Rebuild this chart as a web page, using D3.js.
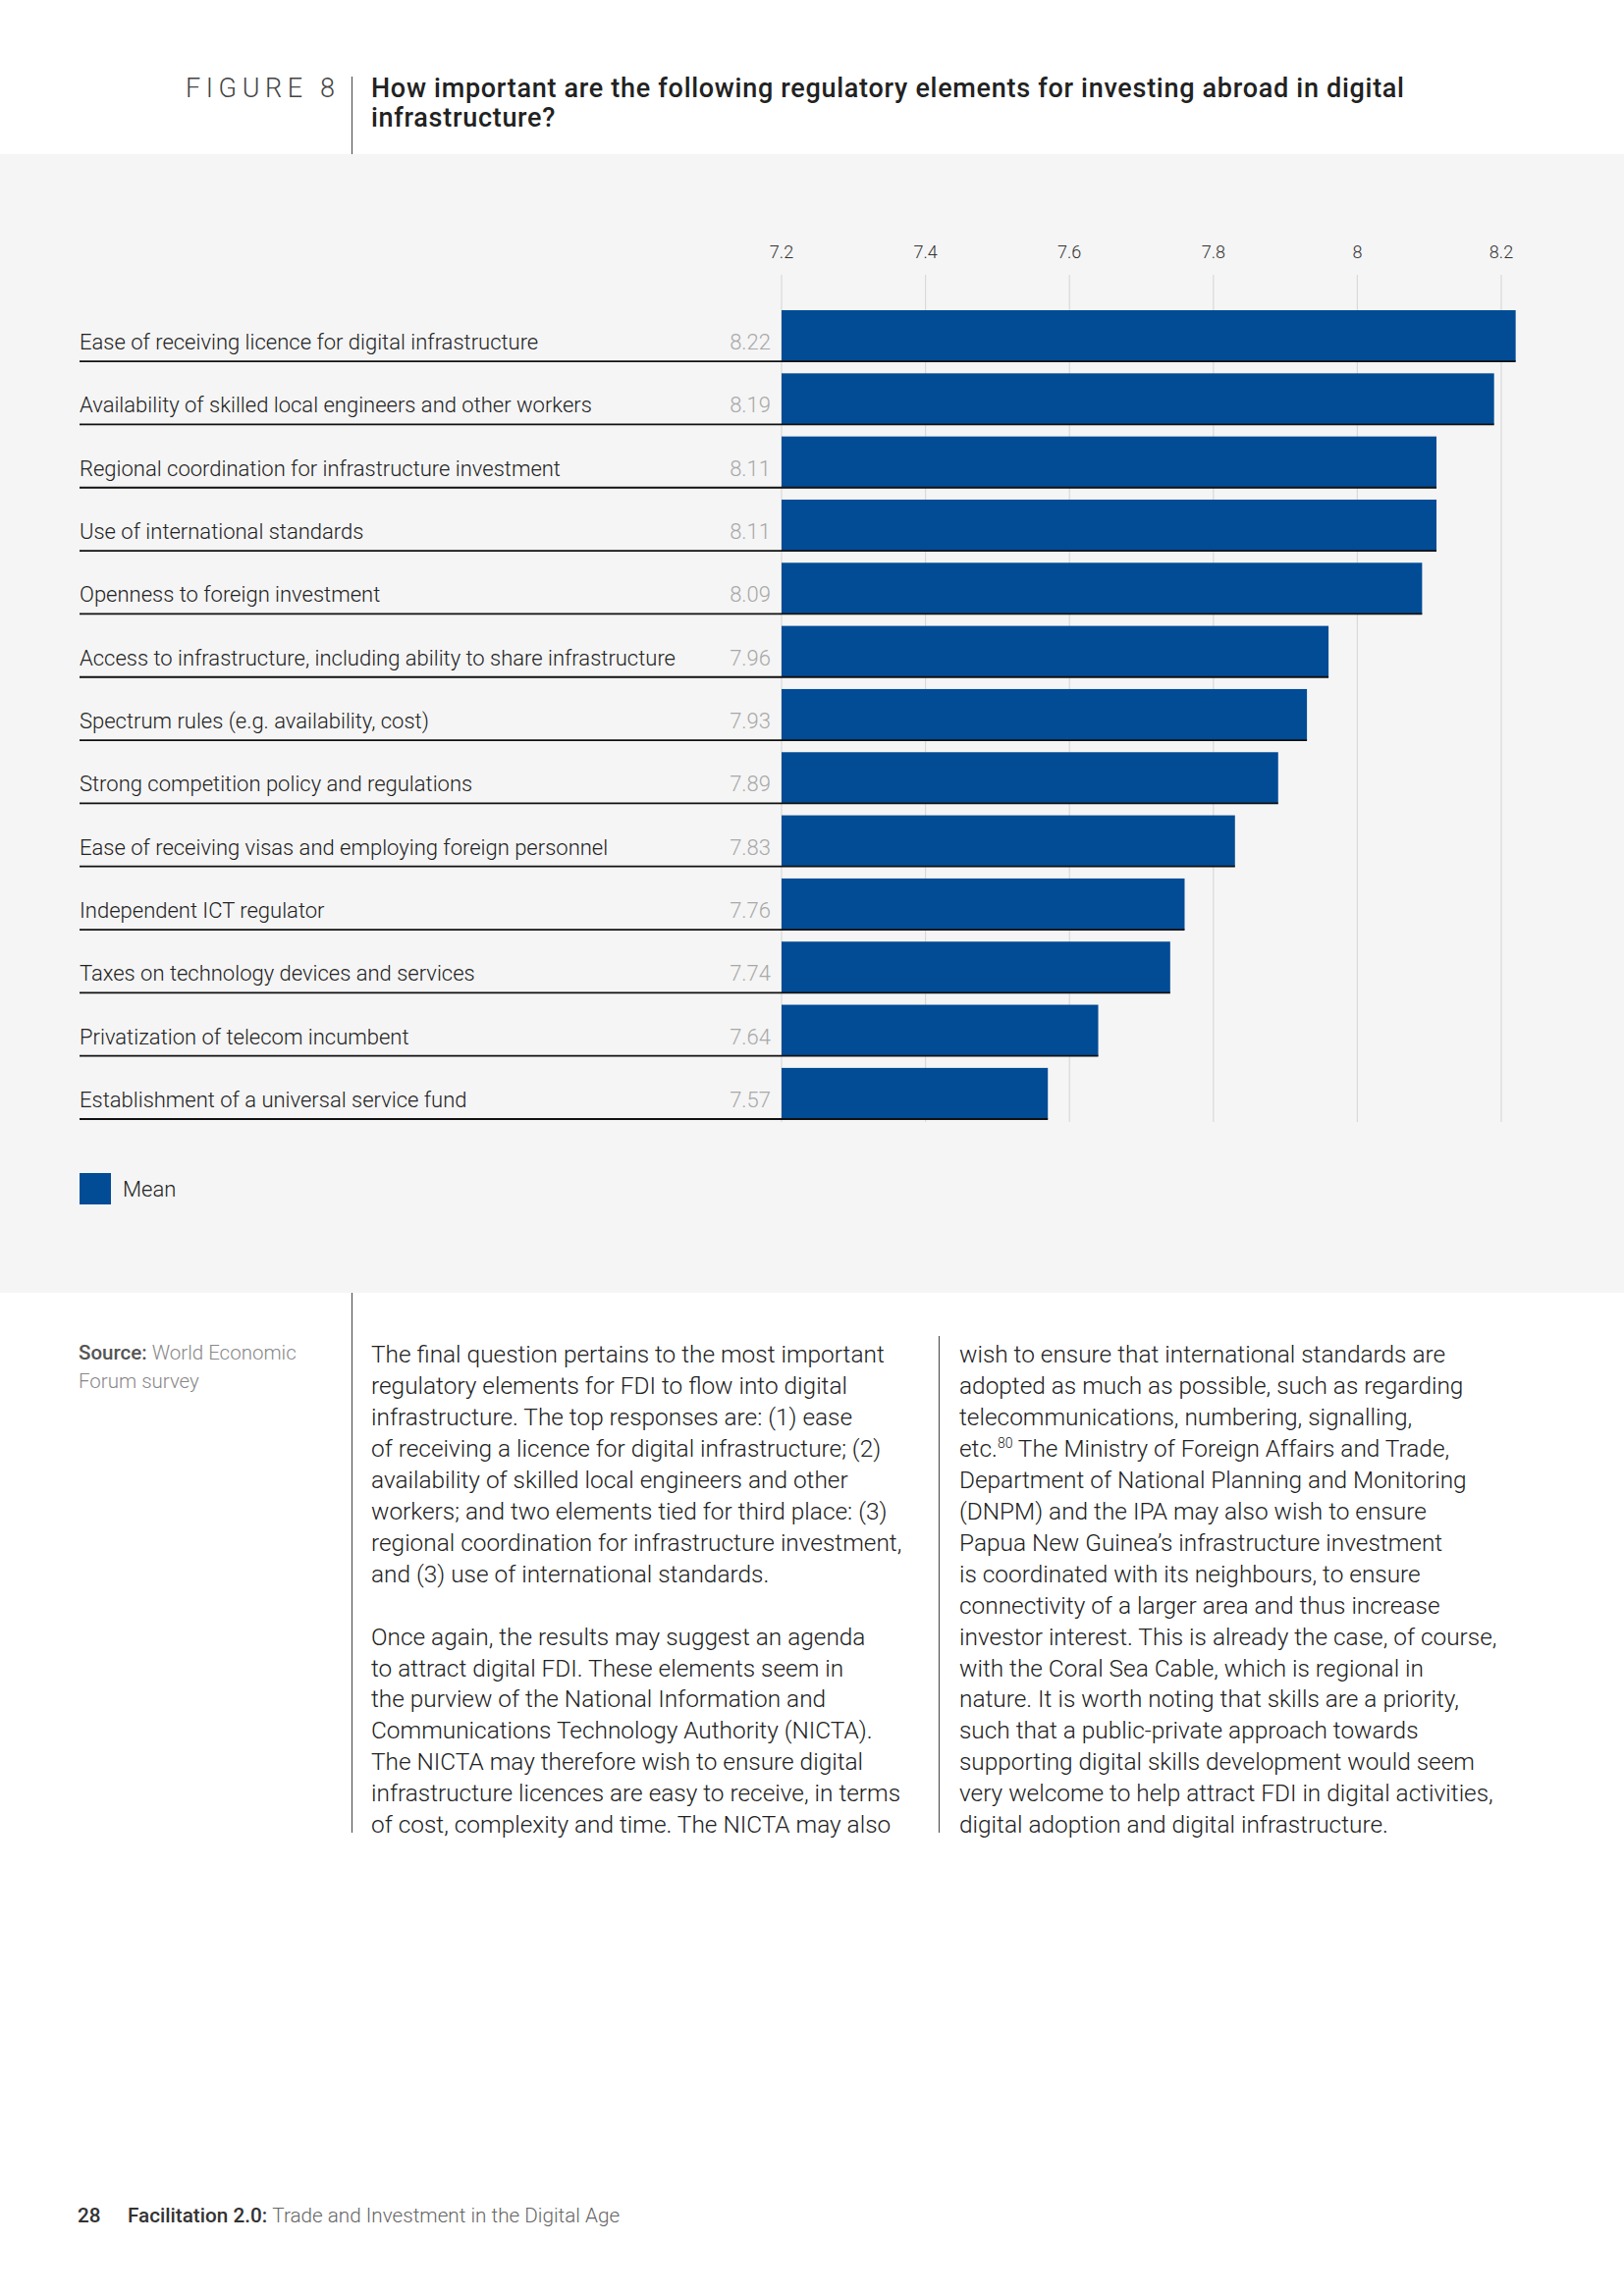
<!DOCTYPE html>
<html><head><meta charset="utf-8">
<script src="https://cdn.jsdelivr.net/npm/d3@7/dist/d3.min.js"></script>
<style>
html,body{margin:0;padding:0;background:#fff;}
svg{display:block;}
text{font-family:Roboto,"Liberation Sans",sans-serif;}
</style></head>
<body>
<svg id="chart" width="1654" height="2339"></svg>
<script>
const categories = [
  "Ease of receiving licence for digital infrastructure",
  "Availability of skilled local engineers and other workers",
  "Regional coordination for infrastructure investment",
  "Use of international standards",
  "Openness to foreign investment",
  "Access to infrastructure, including ability to share infrastructure",
  "Spectrum rules (e.g. availability, cost)",
  "Strong competition policy and regulations",
  "Ease of receiving visas and employing foreign personnel",
  "Independent ICT regulator",
  "Taxes on technology devices and services",
  "Privatization of telecom incumbent",
  "Establishment of a universal service fund"
];
const meanValues = [8.22, 8.19, 8.11, 8.11, 8.09, 7.96, 7.93, 7.89, 7.83, 7.76, 7.74, 7.64, 7.57];
const tickValues = [7.2, 7.4, 7.6, 7.8, 8.0, 8.2];
const tickLabels = ["7.2", "7.4", "7.6", "7.8", "8", "8.2"];
const seriesName = "Mean";

const titleLines = ["How important are the following regulatory elements for investing abroad in digital", "infrastructure?"];
const col1Lines = [
  "The final question pertains to the most important",
  "regulatory elements for FDI to flow into digital",
  "infrastructure. The top responses are: (1) ease",
  "of receiving a licence for digital infrastructure; (2)",
  "availability of skilled local engineers and other",
  "workers; and two elements tied for third place: (3)",
  "regional coordination for infrastructure investment,",
  "and (3) use of international standards.",
  "",
  "Once again, the results may suggest an agenda",
  "to attract digital FDI. These elements seem in",
  "the purview of the National Information and",
  "Communications Technology Authority (NICTA).",
  "The NICTA may therefore wish to ensure digital",
  "infrastructure licences are easy to receive, in terms",
  "of cost, complexity and time. The NICTA may also"
];
const col2Lines = [
  "wish to ensure that international standards are",
  "adopted as much as possible, such as regarding",
  "telecommunications, numbering, signalling,",
  "etc.|80| The Ministry of Foreign Affairs and Trade,",
  "Department of National Planning and Monitoring",
  "(DNPM) and the IPA may also wish to ensure",
  "Papua New Guinea’s infrastructure investment",
  "is coordinated with its neighbours, to ensure",
  "connectivity of a larger area and thus increase",
  "investor interest. This is already the case, of course,",
  "with the Coral Sea Cable, which is regional in",
  "nature. It is worth noting that skills are a priority,",
  "such that a public-private approach towards",
  "supporting digital skills development would seem",
  "very welcome to help attract FDI in digital activities,",
  "digital adoption and digital infrastructure."
];

const svg = d3.select("#chart");
const barColor = "#024c96";

// grey band
svg.append("rect").attr("x",0).attr("y",157).attr("width",1654).attr("height",1160).attr("fill","#f5f5f5");

// header
svg.append("text").attr("x",189).attr("y",99).attr("font-size",27).attr("font-weight",300)
  .attr("letter-spacing",5.6).attr("fill","#444").text("FIGURE 8");
svg.append("line").attr("x1",358.5).attr("x2",358.5).attr("y1",78).attr("y2",157).attr("stroke","#555").attr("stroke-width",1.2);
titleLines.forEach((t,i)=>{
  const tt = svg.append("text").attr("x",378).attr("y",99+i*30).attr("font-size",27).attr("font-weight",500)
    .attr("fill","#222").text(t);
  if(i===0){
    const len = tt.node().getComputedTextLength();
    const ls = (1052 - len)/(t.length-1);
    tt.attr("letter-spacing", ls);
    svg.property("__ls", ls);
  } else {
    tt.attr("letter-spacing", svg.property("__ls"));
  }
});

// scales
const x = d3.scaleLinear().domain([7.2, 8.2]).range([796, 1529]);
const y = d3.scaleBand().domain(categories).range([316, 1140]).paddingInner(0.19).paddingOuter(0);

// gridlines + tick labels
const g = svg.append("g");
g.selectAll("line.grid").data(tickValues).join("line").attr("class","grid")
  .attr("x1",d=>x(d)).attr("x2",d=>x(d)).attr("y1",280).attr("y2",1143)
  .attr("stroke","#d9d9d9").attr("stroke-width",1.2);
g.selectAll("text.tick").data(tickValues).join("text").attr("class","tick")
  .attr("x",d=>x(d)).attr("y",263).attr("text-anchor","middle").attr("font-size",18).attr("font-weight",300)
  .attr("fill","#333").text((d,i)=>tickLabels[i]);

// bars
g.selectAll("rect.bar").data(meanValues).join("rect").attr("class","bar")
  .attr("x",x(7.2)).attr("y",(d,i)=>y(categories[i]))
  .attr("width",d=>x(d)-x(7.2)).attr("height",y.bandwidth()).attr("fill",barColor);

// underlines
g.selectAll("line.under").data(meanValues).join("line").attr("class","under")
  .attr("x1",81).attr("x2",d=>x(d))
  .attr("y1",(d,i)=>y(categories[i])+y.bandwidth()).attr("y2",(d,i)=>y(categories[i])+y.bandwidth())
  .attr("stroke","#111").attr("stroke-width",1.8);

// labels
g.selectAll("text.cat").data(categories).join("text").attr("class","cat")
  .attr("x",81).attr("y",d=>y(d)+y.bandwidth()-12).attr("font-size",22).attr("font-weight",300)
  .attr("fill","#222").text(d=>d);
g.selectAll("text.val").data(meanValues).join("text").attr("class","val")
  .attr("x",785).attr("y",(d,i)=>y(categories[i])+y.bandwidth()-12).attr("text-anchor","end")
  .attr("font-size",22).attr("font-weight",300).attr("fill","#a8a8a8").text(d=>d.toFixed(2));

// legend
svg.append("rect").attr("x",81).attr("y",1195).attr("width",32).attr("height",32).attr("fill",barColor);
svg.append("text").attr("x",125).attr("y",1219).attr("font-size",22).attr("font-weight",300).attr("fill","#222").text(seriesName);

// lower section
svg.append("line").attr("x1",358.5).attr("x2",358.5).attr("y1",1317).attr("y2",1867).attr("stroke","#555").attr("stroke-width",1.2);
svg.append("line").attr("x1",956.5).attr("x2",956.5).attr("y1",1361).attr("y2",1867).attr("stroke","#555").attr("stroke-width",1.2);

const src = svg.append("text").attr("x",80).attr("y",1385).attr("font-size",20.5).attr("font-weight",300).attr("fill","#888");
src.append("tspan").attr("font-weight",500).attr("fill","#555").text("Source: ");
src.append("tspan").text("World Economic");
svg.append("text").attr("x",80).attr("y",1414).attr("font-size",20.5).attr("font-weight",300).attr("fill","#888").text("Forum survey");

function drawCol(lines, x0){
  lines.forEach((t,i)=>{
    const tx = svg.append("text").attr("x",x0).attr("y",1388+i*31.95).attr("font-size",24.4).attr("font-weight",300).attr("fill","#222");
    const parts = t.split("|");
    parts.forEach((p,j)=>{
      if(j%2===1){ tx.append("tspan").attr("dy",-9).attr("font-size",14).text(p); }
      else { const ts = tx.append("tspan").text(p); if(j>0) ts.attr("dy",9); }
    });
  });
}
drawCol(col1Lines, 378);
drawCol(col2Lines, 977);

// footer
svg.append("text").attr("x",79).attr("y",2264).attr("font-size",20.7).attr("font-weight",500).attr("fill","#333").text("28");
const ft = svg.append("text").attr("x",130).attr("y",2264).attr("font-size",20.7).attr("font-weight",300).attr("fill","#666");
ft.append("tspan").attr("font-weight",500).attr("fill","#333").text("Facilitation 2.0: ");
ft.append("tspan").text("Trade and Investment in the Digital Age");
</script>
</body></html>
